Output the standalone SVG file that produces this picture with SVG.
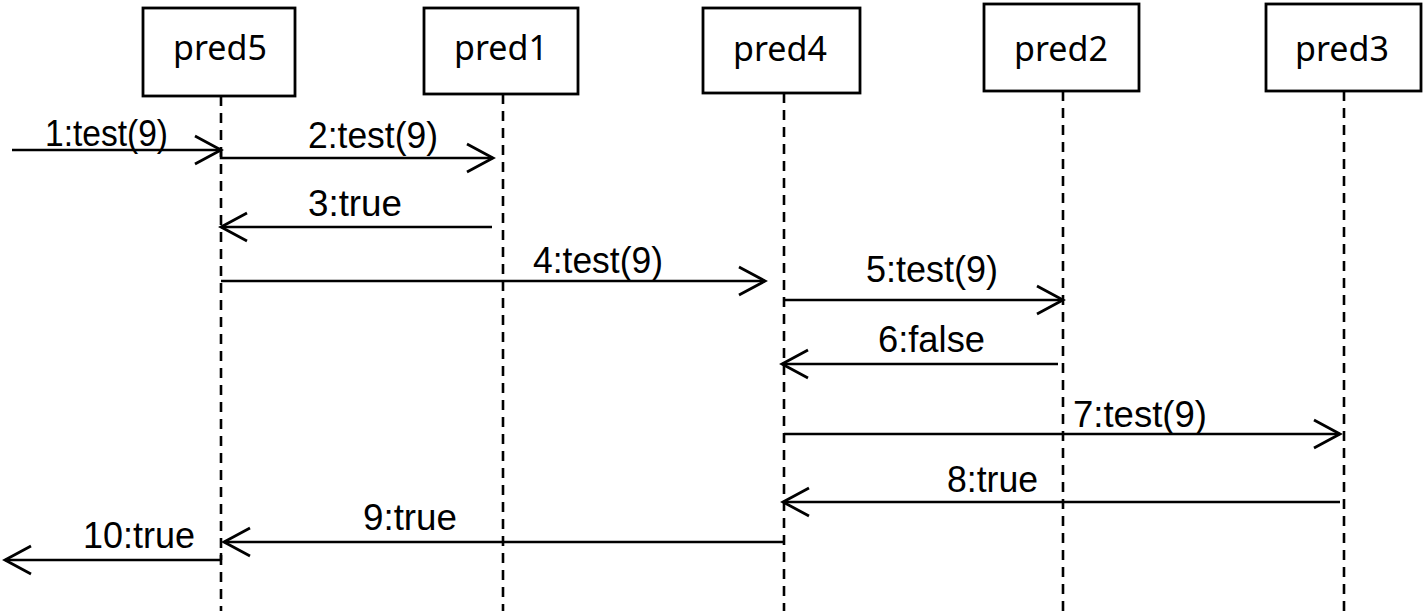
<svg xmlns="http://www.w3.org/2000/svg" width="1425" height="611" viewBox="0 0 1425 611">
<style>
.box{fill:#fff;stroke:#000;stroke-width:2.8}
.name{font-family:"Noto Sans","Liberation Sans",sans-serif;font-size:34px;fill:#000;text-anchor:middle}
.life{stroke:#000;stroke-width:2.6;stroke-dasharray:10 7;fill:none}
.msg{stroke:#000;stroke-width:2.5;fill:none;marker-end:url(#open)}
.lbl{font-family:"Liberation Sans",Arial,sans-serif;font-size:36px;fill:#000}
</style>
<defs>
<marker id="open" markerUnits="userSpaceOnUse" markerWidth="32" markerHeight="34" viewBox="-29 -16 32 32" refX="0" refY="0" orient="auto" overflow="visible">
<path d="M-26,-14 L0,0 L-26,14" fill="none" stroke="#000" stroke-width="2.8"/>
</marker>
</defs>
<rect width="1425" height="611" fill="#fff"/>
<g id="lifelines">
<line class="life" x1="221" y1="96" x2="221" y2="611"/>
<line class="life" x1="503" y1="94" x2="503" y2="611"/>
<line class="life" x1="784" y1="93" x2="784" y2="611"/>
<line class="life" x1="1063" y1="91" x2="1063" y2="611"/>
<line class="life" x1="1344" y1="91" x2="1344" y2="611"/>
</g>
<g id="pred5"><rect class="box" x="143" y="8" width="152" height="88"/><text class="name" x="220" y="60">pred5</text></g>
<g id="pred1"><rect class="box" x="424" y="8" width="154" height="86"/><text class="name" x="501" y="60">pred1</text></g>
<g id="pred4"><rect class="box" x="703" y="8" width="157" height="85"/><text class="name" x="780" y="61">pred4</text></g>
<g id="pred2"><rect class="box" x="984" y="4" width="155" height="87"/><text class="name" x="1061" y="61">pred2</text></g>
<g id="pred3"><rect class="box" x="1266" y="4" width="155" height="87"/><text class="name" x="1342" y="61">pred3</text></g>
<g id="connectors">
<path class="msg" d="M12,150 H221"/>
<path class="msg" d="M221,150 V158 H493"/>
<path class="msg" d="M492,227 H221"/>
<path class="msg" d="M221,281 H765"/>
<path class="msg" d="M784,300 H1063"/>
<path class="msg" d="M1058,364 H782"/>
<path class="msg" d="M784,434 H1340"/>
<path class="msg" d="M1340,502 H783"/>
<path class="msg" d="M784,542 H224"/>
<path class="msg" d="M221,560 H5"/>
<path d="M221,553 V560" stroke="#000" stroke-width="2.5"/>
</g>
<g id="labels">
<text class="lbl" x="45" y="146" textLength="123" lengthAdjust="spacingAndGlyphs">1:test(9)</text>
<text class="lbl" x="308" y="148" textLength="130" lengthAdjust="spacingAndGlyphs">2:test(9)</text>
<text class="lbl" x="308" y="216" textLength="94" lengthAdjust="spacingAndGlyphs">3:true</text>
<text class="lbl" x="533" y="273" textLength="130" lengthAdjust="spacingAndGlyphs">4:test(9)</text>
<text class="lbl" x="866" y="282" textLength="132" lengthAdjust="spacingAndGlyphs">5:test(9)</text>
<text class="lbl" x="878" y="352" textLength="107" lengthAdjust="spacingAndGlyphs">6:false</text>
<text class="lbl" x="1073" y="427" textLength="134" lengthAdjust="spacingAndGlyphs">7:test(9)</text>
<text class="lbl" x="947" y="492" textLength="91" lengthAdjust="spacingAndGlyphs">8:true</text>
<text class="lbl" x="363" y="530" textLength="94" lengthAdjust="spacingAndGlyphs">9:true</text>
<text class="lbl" x="83" y="548" textLength="112" lengthAdjust="spacingAndGlyphs">10:true</text>
</g>
</svg>
